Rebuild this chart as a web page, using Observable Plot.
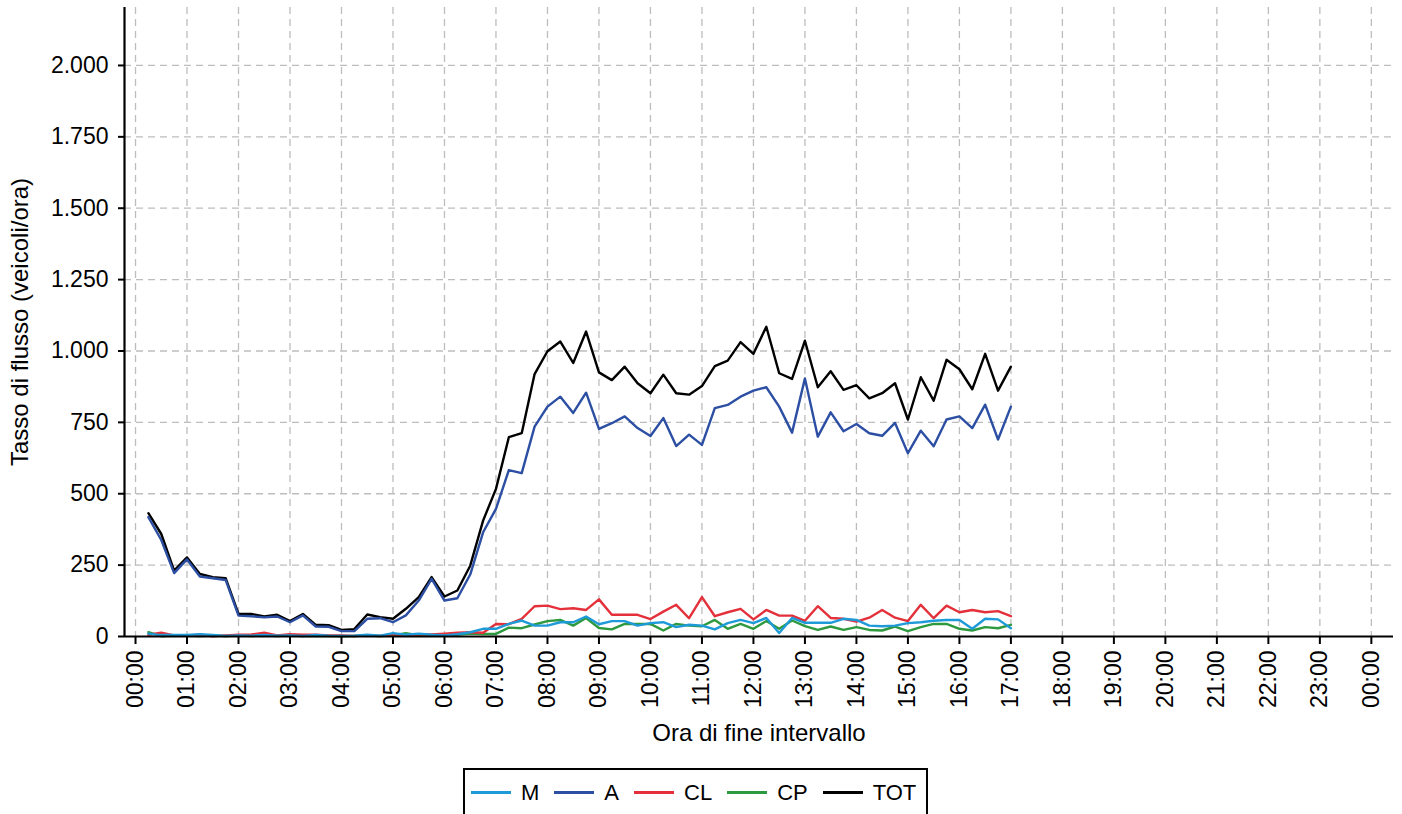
<!DOCTYPE html>
<html>
<head>
<meta charset="utf-8">
<script src="https://cdn.jsdelivr.net/npm/d3@7"></script>
<script src="https://cdn.jsdelivr.net/npm/@observablehq/plot@0.6"></script>
<style>
  html, body { margin: 0; padding: 0; background: #fff; }
  body { width: 1402px; height: 814px; overflow: hidden; position: relative; font-family: "Liberation Sans", Arial, sans-serif; }
  #chart { position: absolute; left: 0; top: 0; }
  #legend {
    position: absolute; left: 463px; top: 768px; width: 465px; height: 49px;
    box-sizing: border-box; border: 2.5px solid #000; background: #fff;
    display: flex; align-items: center; padding-left: 6px;
    font-size: 22px; color: #000;
  }
  .item { display: flex; align-items: center; margin-right: 15px; }
  .swatch { width: 40px; height: 3px; margin-right: 10px; }
</style>
</head>
<body>
<div id="chart"></div>
<div id="legend"></div>
<script>
// ---- data ----
const times = [
  "00:15","00:30","00:45","01:00","01:15","01:30","01:45","02:00",
  "02:15","02:30","02:45","03:00","03:15","03:30","03:45","04:00",
  "04:15","04:30","04:45","05:00","05:15","05:30","05:45","06:00",
  "06:15","06:30","06:45","07:00","07:15","07:30","07:45","08:00",
  "08:15","08:30","08:45","09:00","09:15","09:30","09:45","10:00",
  "10:15","10:30","10:45","11:00","11:15","11:30","11:45","12:00",
  "12:15","12:30","12:45","13:00","13:15","13:30","13:45","14:00",
  "14:15","14:30","14:45","15:00","15:15","15:30","15:45","16:00",
  "16:15","16:30","16:45","17:00"
];
const M = [10,5,5,5,8,5,2,4, 3,5,3,4,2,5,3,2, 3,6,3,12,6,10,6,4,
  8,15,27,27,44,56,38,38, 50,50,70,43,54,54,38,47, 50,33,41,38,25,47,58,47,
  65,12,65,48,48,48,62,58, 38,36,38,47,50,55,58,58, 27,62,60,29];
const A = [418,338,222,270,210,204,198,73, 71,67,70,50,74,35,34,19,
  19,62,64,50,74,126,202,126, 134,217,365,447,583,572,735,805,
  840,783,854,727,747,771,730,702, 765,667,707,671,800,811,840,861,
  873,805,714,904,700,785,719,744, 712,703,748,642,721,666,760,771,
  730,812,690,805];
const CL = [6,13,4,4,6,1,4,6, 7,13,4,8,6,6,4,4, 2,4,2,8,4,8,7,10,
  13,15,13,44,43,62,106,108, 96,99,93,130,76,76,76,61, 87,111,64,138,71,85,97,60,
  93,73,73,55,106,65,62,52, 66,93,66,54,111,64,108,85, 93,85,89,71];
const CP = [15,1,4,3,2,3,2,3, 2,3,2,3,2,2,2,1, 2,3,2,4,12,4,3,5,
  6,10,9,9,31,29,42,54, 58,38,65,30,25,44,44,44, 21,44,38,36,58,27,44,27,
  54,27,56,36,23,35,23,33, 23,21,35,19,33,44,44,27, 21,33,29,41];
const TOT = [432,359,231,277,219,208,204,79, 79,70,76,54,79,41,40,23,
  26,77,68,62,97,138,208,140, 161,248,406,517,698,712,919,999,
  1033,958,1068,925,898,945,887,852, 917,852,847,877,947,966,1031,990,
  1085,922,902,1036,873,929,864,880, 834,852,887,760,908,826,969,936,
  866,990,861,945];
const hourLabels = ["00:00","01:00","02:00","03:00","04:00","05:00","06:00","07:00",
  "08:00","09:00","10:00","11:00","12:00","13:00","14:00","15:00","16:00","17:00",
  "18:00","19:00","20:00","21:00","22:00","23:00","00:00"];
const yTicks = [0,250,500,750,1000,1250,1500,1750,2000];

const legendOrder = ["M","A","CL","CP","TOT"];
const colors = {M:"#1f9ad8", A:"#2c4fa3", CL:"#e4303a", CP:"#2e9a3f", TOT:"#000000"};
const seriesValues = {M, A, CL, CP, TOT};
const drawOrder = ["TOT","CP","CL","A","M"];

// ---- helpers ----
const toHours = s => +s.slice(0,2) + (+s.slice(3)) / 60;
const fmt = d3.formatLocale({decimal: ",", thousands: ".", grouping: [3], currency: ["€",""]}).format(",d");
const hourTicks = hourLabels.map((_, i) => i);
const xMin = -0.214, xMax = 24.43;

const lineMarks = drawOrder.map(name =>
  Plot.line(times.map((t, i) => ({h: toHours(t), v: seriesValues[name][i]})),
    {x: "h", y: "v", stroke: colors[name], strokeWidth: 2.4})
);

const chart = Plot.plot({
  width: 1402,
  height: 760,
  marginLeft: 124,
  marginRight: 9,
  marginTop: 7,
  marginBottom: 124,
  style: {fontFamily: "'Liberation Sans', Arial, sans-serif", background: "#fff", color: "#000", overflow: "visible"},
  x: {type: "linear", domain: [xMin, xMax]},
  y: {domain: [0, 2203]},
  marks: [
    Plot.gridX(hourTicks, {stroke: "#bdbdbd", strokeOpacity: 1, strokeWidth: 1.3, strokeDasharray: "7,5"}),
    Plot.gridY(yTicks.slice(1), {stroke: "#bdbdbd", strokeOpacity: 1, strokeWidth: 1.3, strokeDasharray: "7,5"}),
    ...lineMarks,
    Plot.ruleX([xMin], {stroke: "#000", strokeWidth: 2.2}),
    Plot.ruleY([0], {stroke: "#000", strokeWidth: 2.2}),
    Plot.axisY(yTicks, {tickFormat: fmt, tickSize: 6, tickPadding: 10, fontSize: 23, strokeWidth: 2, label: null}),
    Plot.axisX(hourTicks, {tickFormat: i => hourLabels[i], tickRotate: -90, tickSize: 8, tickPadding: 6, fontSize: 23, strokeWidth: 2, label: null}),
    Plot.text(["Ora di fine intervallo"], {frameAnchor: "bottom", dy: 97, fontSize: 24, textAnchor: "middle", lineAnchor: "middle", text: d => d}),
    Plot.text(["Tasso di flusso (veicoli/ora)"], {frameAnchor: "left", dx: -104, rotate: -90, fontSize: 24, textAnchor: "middle", lineAnchor: "middle", text: d => d})
  ]
});
document.getElementById("chart").appendChild(chart);

const legend = document.getElementById("legend");
legendOrder.forEach(name => {
  const item = document.createElement("div");
  item.className = "item";
  const sw = document.createElement("span");
  sw.className = "swatch";
  sw.style.background = colors[name];
  const lab = document.createElement("span");
  lab.textContent = name;
  item.appendChild(sw);
  item.appendChild(lab);
  legend.appendChild(item);
});
</script>
</body>
</html>
